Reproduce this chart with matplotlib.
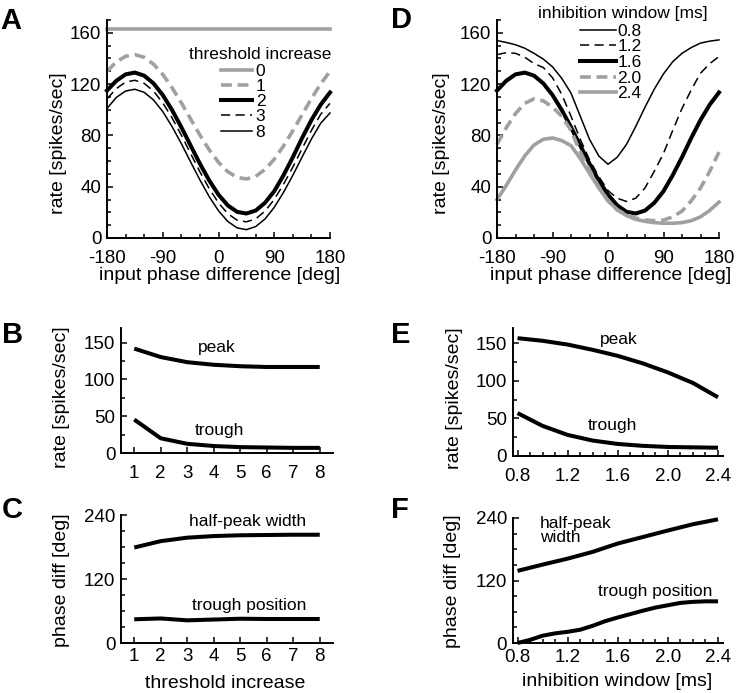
import numpy as np
import matplotlib
matplotlib.use("Agg")
import matplotlib.pyplot as plt
from matplotlib.ticker import MultipleLocator, FormatStrFormatter

plt.rcParams['font.family'] = ['Liberation Sans', 'DejaVu Sans']
plt.rcParams['axes.unicode_minus'] = False

# ---- data ----
phase = [-180, -165, -150, -135, -120, -105, -90, -75, -60, -45, -30, -15,
         0, 15, 30, 45, 60, 75, 90, 105, 120, 135, 150, 165, 180]
phase_ends = [-180, 180]

# panel A: rate vs phase for threshold increase
thr0 = [163, 163]
thr1 = [130.0, 137.3, 141.7, 143.0, 140.9, 135.6, 127.6, 117.2, 105.4, 92.8, 80.3, 68.8,
        59.0, 51.7, 47.3, 46.0, 48.1, 53.4, 61.4, 71.8, 83.6, 96.2, 108.7, 120.2, 130.0]
thr2 = [115.0, 122.6, 127.6, 129.0, 126.6, 120.6, 111.5, 99.8, 86.4, 72.1, 57.9, 44.9,
        33.8, 25.4, 20.4, 19.1, 21.4, 27.4, 36.5, 49.0, 63.0, 78.0, 92.0, 104.0, 113.5]
thr3 = [108.5, 116.5, 121.6, 123.0, 120.6, 114.6, 105.4, 93.7, 80.2, 65.8, 51.6, 38.5,
        27.4, 19.0, 13.9, 12.6, 14.9, 20.9, 30.1, 41.9, 55.3, 69.7, 83.9, 96.5, 105.0]
thr8 = [101.0, 109.6, 114.6, 116.0, 113.6, 107.7, 98.6, 86.9, 73.6, 59.3, 45.3, 32.3,
        21.2, 12.9, 7.9, 6.5, 8.9, 14.8, 23.9, 35.6, 48.9, 63.2, 77.2, 89.5, 97.5]

# panel D: rate vs phase for inhibition window
win08 = [154, 152.5, 150.7, 148, 144, 139.5, 133.5, 124.5, 113, 95, 77, 64,
         57.5, 63, 73, 87, 102, 116, 128, 137.5, 144, 148.5, 152, 153.5, 154.5]
win12 = [143, 144.5, 144, 141, 136, 133, 125, 112, 95, 77, 61, 48,
         37, 31, 28.5, 31, 39, 52, 66, 84, 101, 115.5, 128.5, 136, 141.5]
win16 = thr2
win20 = [73, 86, 97, 105, 108.5, 107, 102, 95, 84, 67, 53, 40,
         29, 22, 18, 15.5, 14, 13.5, 14, 16.5, 21, 29, 39, 52, 67]
win24 = [30, 41, 53, 64, 72.5, 77, 78, 76, 72, 62, 50.5, 39,
         29, 22, 17.5, 14.5, 13, 12, 11.5, 11.5, 12, 13.5, 16.5, 21.5, 28]

# panels B, C
thr_x = [1, 2, 3, 4, 5, 6, 7, 8]
peak_b = [142, 130.5, 123.5, 120, 118, 117, 117, 117]
trough_b = [45.5, 20, 12.5, 9.5, 8, 7.5, 7, 7]
width_c = [179, 191, 197.5, 200.5, 202, 202.5, 203, 203]
tpos_c = [44.5, 46, 42.5, 44, 45.5, 45, 45, 45]

# panels E, F
win_x = [0.8, 1.0, 1.2, 1.4, 1.6, 1.8, 2.0, 2.2, 2.4]
peak_e = [156.5, 153, 148, 141, 133, 123, 111, 97, 78]
trough_e = [57, 40, 28, 20.5, 16, 13.5, 12, 11.5, 11]
width_f = [138.5, 150.5, 162, 175, 191, 203.5, 216, 228, 237.5]
win_fine = [0.8, 0.9, 1.0, 1.1, 1.2, 1.3, 1.4, 1.5, 1.6, 1.7, 1.8, 1.9, 2.0, 2.1, 2.2, 2.3, 2.4]
tpos_f = [0, 6, 14, 18.5, 21.5, 25.5, 33, 42, 49, 55.5, 62, 68, 72.5, 77, 79, 80, 80]

GRAY = '#a0a0a0'
W, H = 738, 693

fig = plt.figure(figsize=(7.38, 6.93), dpi=100)


def add_ax(l, t, r, b):
    return fig.add_axes([l / W, 1 - b / H, (r - l) / W, (b - t) / H])


def style(ax, xpad=8.3):
    for s in ['top', 'right']:
        ax.spines[s].set_visible(False)
    for s in ['left', 'bottom']:
        ax.spines[s].set_linewidth(1.4)
    ax.tick_params(which='both', direction='in', width=1.1, labelsize=13.5)
    ax.tick_params(which='major', length=4.5)
    ax.tick_params(which='minor', length=3)
    ax.tick_params(axis='x', pad=xpad)
    ax.tick_params(axis='y', pad=4)


def thick(ax, x, y):
    ax.plot(x, y, color='black', lw=2.9, clip_on=False, solid_capstyle='butt')


# ---- A ----
axA = add_ax(107, 20, 330, 238)
style(axA)
la, = axA.plot(phase_ends, thr0, color=GRAY, lw=2.6, clip_on=False)
lb, = axA.plot(phase, thr1, color=GRAY, lw=2.6, ls=(0, (3, 1.6)), clip_on=False)
lc, = axA.plot(phase, thr2, color='black', lw=2.9, clip_on=False)
ld, = axA.plot(phase, thr3, color='black', lw=1.1, ls=(0, (6, 3.5)), clip_on=False)
le, = axA.plot(phase, thr8, color='black', lw=1.1, clip_on=False)
axA.set_xlim(-180, 180)
axA.set_ylim(0, 170)
axA.xaxis.set_major_locator(MultipleLocator(90))
axA.xaxis.set_minor_locator(MultipleLocator(30))
axA.yaxis.set_major_locator(MultipleLocator(40))
axA.yaxis.set_minor_locator(MultipleLocator(10))
axA.set_xlabel('input phase difference [deg]', fontsize=14)
axA.set_ylabel('rate [spikes/sec]', fontsize=14)
axA.xaxis.set_label_coords(0.507, -0.132)
axA.yaxis.set_label_coords(-0.179, 0.435)
axA.text(0.686, 0.821, 'threshold increase', transform=axA.transAxes,
         ha='center', va='baseline', fontsize=12.5)
axA.legend([la, lb, lc, ld, le], ['0', '1', '2', '3', '8'], loc='upper left',
           bbox_to_anchor=(0.511, 0.799), frameon=False, fontsize=12.5,
           handlelength=1.8, handletextpad=0.2, labelspacing=0.0,
           borderpad=0, borderaxespad=0)

# ---- D ----
axD = add_ax(497, 20, 719, 238)
style(axD)
l1, = axD.plot(phase, win08, color='black', lw=1.1, clip_on=False)
l2, = axD.plot(phase, win12, color='black', lw=1.1, ls=(0, (6, 3.5)), clip_on=False)
l3, = axD.plot(phase, win16, color='black', lw=2.9, clip_on=False)
l4, = axD.plot(phase, win20, color=GRAY, lw=2.6, ls=(0, (3, 1.6)), clip_on=False)
l5, = axD.plot(phase, win24, color=GRAY, lw=2.6, clip_on=False)
axD.set_xlim(-180, 180)
axD.set_ylim(0, 170)
axD.xaxis.set_major_locator(MultipleLocator(90))
axD.xaxis.set_minor_locator(MultipleLocator(30))
axD.yaxis.set_major_locator(MultipleLocator(40))
axD.yaxis.set_minor_locator(MultipleLocator(10))
axD.set_xlabel('input phase difference [deg]', fontsize=14)
axD.set_ylabel('rate [spikes/sec]', fontsize=14)
axD.xaxis.set_label_coords(0.513, -0.132)
axD.yaxis.set_label_coords(-0.212, 0.435)
axD.text(0.567, 1.011, 'inhibition window [ms]', transform=axD.transAxes,
         ha='center', va='baseline', fontsize=12.5)
axD.legend([l1, l2, l3, l4, l5], ['0.8', '1.2', '1.6', '2.0', '2.4'], loc='upper left',
           bbox_to_anchor=(0.374, 0.984), frameon=False, fontsize=12.5,
           handlelength=2.1, handletextpad=0.05, labelspacing=0.03,
           borderpad=0, borderaxespad=0)

# ---- B ----
axB = add_ax(121, 328, 333, 453)
style(axB)
thick(axB, thr_x, peak_b)
thick(axB, thr_x, trough_b)
axB.set_xlim(0.5, 8.5)
axB.set_ylim(0, 170)
axB.xaxis.set_major_locator(MultipleLocator(1))
axB.yaxis.set_major_locator(MultipleLocator(50))
axB.yaxis.set_minor_locator(MultipleLocator(25))
axB.set_ylabel('rate [spikes/sec]', fontsize=14)
axB.yaxis.set_label_coords(-0.241, 0.444)
axB.text(4.1, 143, 'peak', ha='center', va='center', fontsize=12.5)
axB.text(4.2, 30, 'trough', ha='center', va='center', fontsize=12.5)

# ---- C ----
axC = add_ax(121, 515, 333, 643)
style(axC, xpad=3.5)
thick(axC, thr_x, width_c)
thick(axC, thr_x, tpos_c)
axC.set_xlim(0.5, 8.5)
axC.set_ylim(0, 240)
axC.xaxis.set_major_locator(MultipleLocator(1))
axC.yaxis.set_major_locator(MultipleLocator(120))
axC.yaxis.set_minor_locator(MultipleLocator(30))
axC.set_xlabel('threshold increase', fontsize=14)
axC.set_ylabel('phase diff [deg]', fontsize=14)
axC.xaxis.set_label_coords(0.49, -0.25)
axC.yaxis.set_label_coords(-0.241, 0.492)
axC.text(5.29, 227, 'half-peak width', ha='center', va='center', fontsize=12.5)
axC.text(5.34, 71, 'trough position', ha='center', va='center', fontsize=12.5)

# ---- E ----
axE = add_ax(512.5, 328, 723, 456)
style(axE)
thick(axE, win_x, peak_e)
thick(axE, win_x, trough_e)
axE.set_xlim(0.76, 2.44)
axE.set_ylim(0, 170)
axE.xaxis.set_major_locator(MultipleLocator(0.4))
axE.xaxis.set_minor_locator(MultipleLocator(0.1))
axE.xaxis.set_major_formatter(FormatStrFormatter('%.1f'))
axE.yaxis.set_major_locator(MultipleLocator(50))
axE.yaxis.set_minor_locator(MultipleLocator(25))
axE.set_ylabel('rate [spikes/sec]', fontsize=14)
axE.yaxis.set_label_coords(-0.237, 0.453)
axE.text(1.608, 155, 'peak', ha='center', va='center', fontsize=12.5)
axE.text(1.56, 40, 'trough', ha='center', va='center', fontsize=12.5)

# ---- F ----
axF = add_ax(512.5, 518, 723, 643)
style(axF, xpad=4.2)
thick(axF, win_x, width_f)
thick(axF, win_fine, tpos_f)
axF.set_xlim(0.76, 2.44)
axF.set_ylim(0, 240)
axF.xaxis.set_major_locator(MultipleLocator(0.4))
axF.xaxis.set_minor_locator(MultipleLocator(0.1))
axF.xaxis.set_major_formatter(FormatStrFormatter('%.1f'))
axF.yaxis.set_major_locator(MultipleLocator(120))
axF.yaxis.set_minor_locator(MultipleLocator(30))
axF.set_xlabel('inhibition window [ms]', fontsize=14)
axF.set_ylabel('phase diff [deg]', fontsize=14)
axF.xaxis.set_label_coords(0.4986, -0.24)
axF.yaxis.set_label_coords(-0.243, 0.496)
axF.text(0.978, 216, 'half-peak\nwidth', ha='left', va='center', fontsize=12.5,
         linespacing=0.95)
axF.text(1.899, 98, 'trough position', ha='center', va='center', fontsize=12.5)

# panel letters
for letter, x, y in [('A', 0, 7), ('B', 2, 321), ('C', 2, 496),
                     ('D', 391, 6), ('E', 391, 321), ('F', 391, 496)]:
    fig.text(x / W, 1 - y / H, letter, ha='left', va='top',
             fontsize=21, fontweight='bold')

fig.savefig('out.png', dpi=100)
